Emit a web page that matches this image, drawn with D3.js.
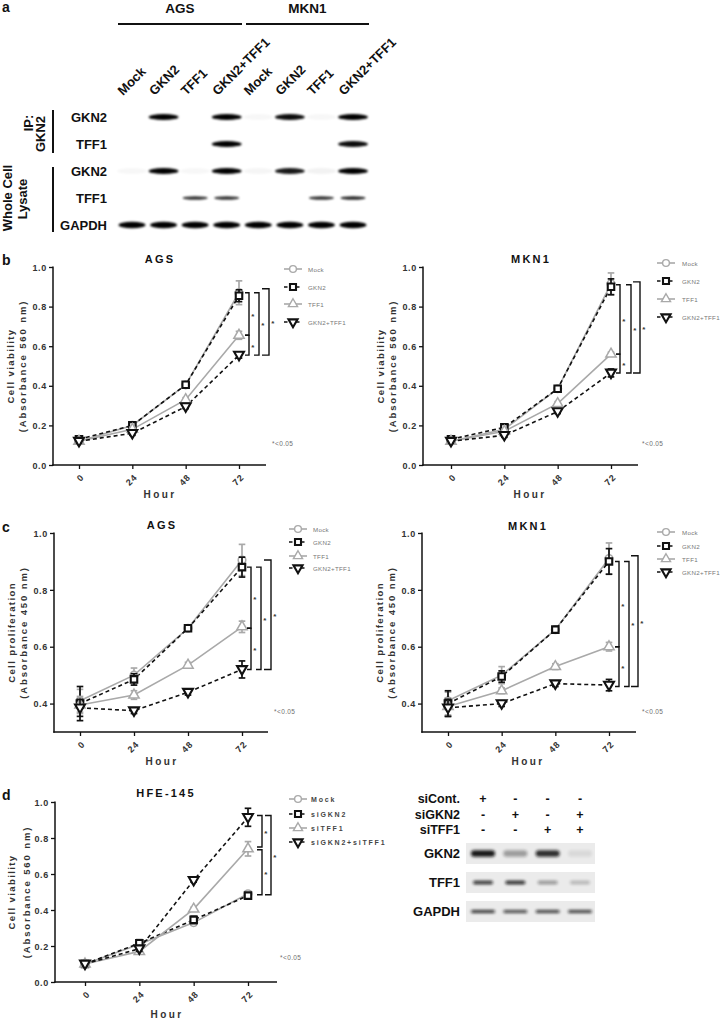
<!DOCTYPE html>
<html><head><meta charset="utf-8">
<script src="https://cdn.jsdelivr.net/npm/d3@7"></script>
<style>body{margin:0;background:#fff} svg{display:block;font-family:"Liberation Sans",Arial,sans-serif}</style>
</head><body><svg id="fig" width="723" height="1020"></svg>
<script>
// ---------------- DATA ----------------
const hours = [0, 24, 48, 72];
const seriesNames = ["Mock", "GKN2", "TFF1", "GKN2+TFF1"];
const siSeriesNames = ["Mock", "siGKN2", "siTFF1", "siGKN2+siTFF1"];

// b: AGS viability (Absorbance 560 nm)
const bAgsMock = [0.12, 0.20, 0.405, 0.87];
const bAgsMockErr = [0.01, 0.01, 0.01, 0.06];
const bAgsGkn2 = [0.13, 0.20, 0.405, 0.855];
const bAgsGkn2Err = [0.01, 0.015, 0.01, 0.03];
const bAgsTff1 = [0.12, 0.18, 0.33, 0.655];
const bAgsTff1Err = [0.01, 0.01, 0.01, 0.02];
const bAgsBoth = [0.12, 0.16, 0.295, 0.555];
const bAgsBothErr = [0.01, 0.01, 0.01, 0.015];
const bAgsBrackets = [[0.87, 0.655, 0], [0.655, 0.555, 0], [0.87, 0.555, 1], [0.89, 0.555, 2]];

// b: MKN1 viability
const bMknMock = [0.12, 0.18, 0.385, 0.915];
const bMknMockErr = [0.01, 0.01, 0.01, 0.055];
const bMknGkn2 = [0.13, 0.19, 0.385, 0.90];
const bMknGkn2Err = [0.01, 0.01, 0.01, 0.04];
const bMknTff1 = [0.12, 0.17, 0.31, 0.56];
const bMknTff1Err = [0.01, 0.01, 0.01, 0.01];
const bMknBoth = [0.12, 0.15, 0.27, 0.465];
const bMknBothErr = [0.01, 0.01, 0.01, 0.02];
const bMknBrackets = [[0.91, 0.56, 0], [0.56, 0.465, 0], [0.91, 0.465, 1], [0.925, 0.465, 2]];

// c: AGS proliferation (Absorbance 450 nm)
const cAgsMock = [0.41, 0.50, 0.665, 0.905];
const cAgsMockErr = [0.04, 0.025, 0.01, 0.055];
const cAgsGkn2 = [0.40, 0.485, 0.665, 0.88];
const cAgsGkn2Err = [0.06, 0.02, 0.01, 0.035];
const cAgsTff1 = [0.395, 0.43, 0.535, 0.67];
const cAgsTff1Err = [0.03, 0.015, 0.01, 0.02];
const cAgsBoth = [0.385, 0.375, 0.44, 0.52];
const cAgsBothErr = [0.03, 0.01, 0.01, 0.03];
const cAgsBrackets = [[0.88, 0.665, 0], [0.665, 0.52, 0], [0.88, 0.52, 1], [0.905, 0.52, 2]];

// c: MKN1 proliferation
const cMknMock = [0.41, 0.50, 0.66, 0.91];
const cMknMockErr = [0.03, 0.03, 0.01, 0.055];
const cMknGkn2 = [0.40, 0.495, 0.66, 0.90];
const cMknGkn2Err = [0.045, 0.02, 0.01, 0.045];
const cMknTff1 = [0.39, 0.445, 0.53, 0.60];
const cMknTff1Err = [0.03, 0.01, 0.01, 0.015];
const cMknBoth = [0.385, 0.40, 0.47, 0.465];
const cMknBothErr = [0.03, 0.01, 0.01, 0.02];
const cMknBrackets = [[0.90, 0.60, 0], [0.60, 0.46, 0], [0.90, 0.46, 1], [0.92, 0.46, 2]];

// d: HFE-145 viability
const dMock = [0.10, 0.21, 0.33, 0.49];
const dMockErr = [0.01, 0.015, 0.015, 0.015];
const dSiGkn2 = [0.10, 0.215, 0.345, 0.48];
const dSiGkn2Err = [0.01, 0.02, 0.02, 0.015];
const dSiTff1 = [0.10, 0.17, 0.405, 0.74];
const dSiTff1Err = [0.01, 0.015, 0.01, 0.04];
const dSiBoth = [0.10, 0.185, 0.565, 0.915];
const dSiBothErr = [0.01, 0.015, 0.01, 0.05];
const dBrackets = [[0.925, 0.75, 0], [0.735, 0.485, 0], [0.925, 0.485, 1]];

const yTicksFull = [0.0, 0.2, 0.4, 0.6, 0.8, 1.0];
const yTicksProlif = [0.4, 0.6, 0.8, 1.0];

// a: co-IP western blot
const laneLabelsA = ["Mock", "GKN2", "TFF1", "GKN2+TFF1", "Mock", "GKN2", "TFF1", "GKN2+TFF1"];
const cellLinesA = ["AGS", "MKN1"];
const rowLabelsA = ["GKN2", "TFF1", "GKN2", "TFF1", "GAPDH"];
const ipGkn2 = [0, 1, 0, 1, 0.03, 0.95, 0.03, 1];
const ipTff1 = [0, 0, 0, 1, 0, 0, 0, 0.95];
const wclGkn2 = [0.03, 1, 0.03, 1, 0.04, 0.9, 0.05, 1];
const wclTff1 = [0, 0, 0.8, 0.8, 0, 0, 0.8, 0.85];
const wclGapdh = [1, 1, 1, 1, 1, 1, 1, 1];

// d: knockdown western blot
const siCont = ["+", "-", "-", "-"];
const siGkn2 = ["-", "+", "-", "+"];
const siTff1 = ["-", "-", "+", "+"];
const rowLabelsD = ["GKN2", "TFF1", "GAPDH"];
const dBlotGkn2 = [0.95, 0.35, 0.85, 0.08];
const dBlotTff1 = [0.85, 0.9, 0.4, 0.25];
const dBlotGapdh = [0.85, 0.75, 0.8, 0.8];

// ---------------- DRAWING ----------------
const FONT = "Liberation Sans, Arial, sans-serif";
const GREY = "#a9a9a9", BLACK = "#111";
const svg = d3.select("#fig");
const defs = svg.append("defs");
defs.append("filter").attr("id", "blur").attr("x", "-30%").attr("y", "-100%").attr("width", "160%").attr("height", "300%")
  .append("feGaussianBlur").attr("stdDeviation", 1.1);
defs.append("filter").attr("id", "blur2").attr("x", "-30%").attr("y", "-100%").attr("width", "160%").attr("height", "300%")
  .append("feGaussianBlur").attr("stdDeviation", 1.4);

const styles = [
  {color: GREY, dash: null, sym: d3.symbolCircle, rot: 0},
  {color: BLACK, dash: "4,3", sym: d3.symbolSquare, rot: 0},
  {color: GREY, dash: null, sym: d3.symbolTriangle, rot: 0},
  {color: BLACK, dash: "4,3", sym: d3.symbolTriangle, rot: 180}
];

function text(g, x, y, s, o = {}) {
  const t = g.append("text").attr("x", x).attr("y", y).text(s)
    .attr("font-family", FONT).attr("font-size", o.size || 10)
    .attr("font-weight", o.weight || "bold").attr("fill", o.fill || "#111")
    .attr("text-anchor", o.anchor || "start");
  if (o.ls) t.attr("letter-spacing", o.ls);
  if (o.rot) t.attr("transform", `rotate(${o.rot},${x},${y})`);
  return t;
}

function drawPanel(c) {
  const g = svg.append("g");
  const y = d3.scaleLinear().domain([c.yMin, 1.0]).range([c.bottom, c.top]);
  const x = d3.scaleLinear().domain([0, 72]).range([c.x0, c.x72]);

  // axes
  const ya = g.append("g").attr("transform", `translate(${c.axisX},0)`)
    .call(d3.axisLeft(y).tickValues(c.yTicks).tickFormat(d3.format(".1f")).tickSize(4).tickSizeOuter(0));
  ya.select(".domain").remove();
  ya.selectAll("line").attr("stroke", BLACK).attr("stroke-width", 1.3);
  ya.selectAll("text").attr("font-family", FONT).attr("font-size", 9).attr("font-weight", "bold")
    .attr("fill", "#333").attr("letter-spacing", 0.7).attr("x", -6).attr("dy", "0.35em");
  const xa = g.append("g").attr("transform", `translate(0,${c.bottom})`)
    .call(d3.axisBottom(x).tickValues(hours).tickFormat(d3.format("d")).tickSize(4).tickSizeOuter(0));
  xa.select(".domain").remove();
  xa.selectAll("line").attr("stroke", BLACK).attr("stroke-width", 1.3);
  xa.selectAll("text").attr("font-family", FONT).attr("font-size", 9).attr("font-weight", "bold")
    .attr("fill", "#333").attr("letter-spacing", 0.8).attr("x", 0).attr("y", 0).attr("dy", 0)
    .attr("text-anchor", "end").attr("transform", "translate(5,13) rotate(-45)");
  g.append("line").attr("x1", c.axisX).attr("x2", c.axisX).attr("y1", y(1.0) - 0.5).attr("y2", c.bottom + 0.7)
    .attr("stroke", BLACK).attr("stroke-width", 1.5);
  g.append("line").attr("x1", c.axisX - 0.7).attr("x2", c.axisRight).attr("y1", c.bottom).attr("y2", c.bottom)
    .attr("stroke", BLACK).attr("stroke-width", 1.5);

  // labels
  text(g, c.titleX, c.titleY, c.title, {size: 11, anchor: "middle", ls: 2.2});
  const ymid = (c.top + c.bottom) / 2;
  text(g, c.axisX + c.yl1, ymid, c.ylab1, {size: 9.5, anchor: "middle", ls: 1.4, fill: "#333", rot: -90});
  text(g, c.axisX + c.yl2, ymid, c.ylab2, {size: 9.5, anchor: "middle", ls: 1.9, fill: "#333", rot: -90});
  text(g, c.hourX, c.hourY, "Hour", {size: 10, anchor: "middle", ls: 2.4, fill: "#333"});
  text(g, c.sigX, c.sigY, "*<0.05", {size: 6.5, weight: "normal", fill: "#6f6f6f", ls: 0.4});

  // lines
  const line = d3.line().x((d, i) => x(hours[i])).y(d => y(d));
  c.series.forEach((s, k) => {
    const st = styles[k];
    g.append("path").attr("d", line(s.vals)).attr("fill", "none").attr("stroke", st.color)
      .attr("stroke-width", 1.6).attr("stroke-dasharray", st.dash);
  });
  // error bars + markers
  c.series.forEach((s, k) => {
    const st = styles[k];
    s.vals.forEach((v, i) => {
      const e = s.errs[i], px = x(hours[i]);
      g.append("line").attr("x1", px).attr("x2", px).attr("y1", y(v - e)).attr("y2", y(v + e))
        .attr("stroke", st.color).attr("stroke-width", 1.7);
      [v - e, v + e].forEach(w => g.append("line").attr("x1", px - 3.3).attr("x2", px + 3.3)
        .attr("y1", y(w)).attr("y2", y(w)).attr("stroke", st.color).attr("stroke-width", 1.7));
    });
    s.vals.forEach((v, i) => {
      g.append("path").attr("d", d3.symbol().type(st.sym).size(k % 2 ? 42 : 46)())
        .attr("transform", `translate(${x(hours[i])},${y(v) + (st.rot ? -0.5 : 0)}) rotate(${st.rot})`)
        .attr("fill", "#fff").attr("stroke", st.color).attr("stroke-width", k % 2 ? 2.1 : 1.5);
    });
  });

  // significance brackets
  c.brackets.forEach(b => {
    const vx = c.x72 + c.brX[b[2]], tl = c.brTick[b[2]];
    const y1 = y(b[0]), y2 = y(b[1]);
    g.append("path").attr("d", `M${vx - tl},${y1}H${vx}V${y2}H${vx - tl}`)
      .attr("fill", "none").attr("stroke", BLACK).attr("stroke-width", 1.4);
    text(g, vx + 2.2, (y1 + y2) / 2 + 4.5, "*", {size: 8, weight: "bold", fill: "#333"});
  });

  // legend
  c.names.forEach((n, k) => {
    const st = styles[k], ly = c.legY[k];
    g.append("line").attr("x1", c.legX - 9).attr("x2", c.legX + 9).attr("y1", ly).attr("y2", ly)
      .attr("stroke", st.color).attr("stroke-width", 1.6).attr("stroke-dasharray", st.dash ? "3.5,2.5" : null);
    g.append("path").attr("d", d3.symbol().type(st.sym).size(36)())
      .attr("transform", `translate(${c.legX},${ly}) rotate(${st.rot})`)
      .attr("fill", "#fff").attr("stroke", st.color).attr("stroke-width", k % 2 ? 2.1 : 1.4);
    text(g, c.legTX, ly + 2.5, n, c.legFont);
  });
}

const mk = (v, e) => ({vals: v, errs: e});
const legSmall = {size: 6.2, weight: "normal", fill: "#777", ls: 0.3};

drawPanel({
  axisX: 53, axisRight: 266, x0: 79, x72: 239, top: 267, bottom: 465, yMin: 0, yTicks: yTicksFull,
  title: "AGS", titleX: 160, titleY: 263, ylab1: "Cell viability", ylab2: "(Absorbance 560 nm)", yl1: -39, yl2: -27,
  hourX: 160, hourY: 498, sigX: 272, sigY: 446,
  series: [mk(bAgsMock, bAgsMockErr), mk(bAgsGkn2, bAgsGkn2Err), mk(bAgsTff1, bAgsTff1Err), mk(bAgsBoth, bAgsBothErr)],
  brackets: bAgsBrackets, brX: [10, 20, 30], brTick: [4, 5, 7],
  names: seriesNames, legX: 293, legTX: 308, legY: [269, 287, 304, 322], legFont: legSmall
});
drawPanel({
  axisX: 423, axisRight: 638, x0: 451, x72: 611, top: 267, bottom: 465, yMin: 0, yTicks: yTicksFull,
  title: "MKN1", titleX: 531, titleY: 263, ylab1: "Cell viability", ylab2: "(Absorbance 560 nm)", yl1: -39, yl2: -27,
  hourX: 530, hourY: 498, sigX: 642, sigY: 446,
  series: [mk(bMknMock, bMknMockErr), mk(bMknGkn2, bMknGkn2Err), mk(bMknTff1, bMknTff1Err), mk(bMknBoth, bMknBothErr)],
  brackets: bMknBrackets, brX: [9, 20, 29], brTick: [4, 5, 7],
  names: seriesNames, legX: 666, legTX: 682, legY: [263, 281, 299, 317], legFont: legSmall
});
drawPanel({
  axisX: 54, axisRight: 268, x0: 80, x72: 242, top: 533, bottom: 732, yMin: 0.3, yTicks: yTicksProlif,
  title: "AGS", titleX: 162, titleY: 529, ylab1: "Cell proliferation", ylab2: "(Absorbance 450 nm)", yl1: -39, yl2: -27,
  hourX: 162, hourY: 765, sigX: 274, sigY: 714,
  series: [mk(cAgsMock, cAgsMockErr), mk(cAgsGkn2, cAgsGkn2Err), mk(cAgsTff1, cAgsTff1Err), mk(cAgsBoth, cAgsBothErr)],
  brackets: cAgsBrackets, brX: [9, 19, 29], brTick: [4, 5, 7],
  names: seriesNames, legX: 298, legTX: 313, legY: [529, 542, 556, 568], legFont: legSmall
});
drawPanel({
  axisX: 422, axisRight: 636, x0: 448, x72: 609, top: 533, bottom: 732, yMin: 0.3, yTicks: yTicksProlif,
  title: "MKN1", titleX: 528, titleY: 530, ylab1: "Cell proliferation", ylab2: "(Absorbance 450 nm)", yl1: -39, yl2: -27,
  hourX: 528, hourY: 765, sigX: 642, sigY: 714,
  series: [mk(cMknMock, cMknMockErr), mk(cMknGkn2, cMknGkn2Err), mk(cMknTff1, cMknTff1Err), mk(cMknBoth, cMknBothErr)],
  brackets: cMknBrackets, brX: [10, 20, 29], brTick: [4, 5, 7],
  names: seriesNames, legX: 666, legTX: 682, legY: [532, 546, 559, 572], legFont: legSmall
});
drawPanel({
  axisX: 55, axisRight: 277, x0: 85, x72: 248, top: 802, bottom: 982, yMin: 0, yTicks: yTicksFull,
  title: "HFE-145", titleX: 166, titleY: 797, ylab1: "Cell viability", ylab2: "(Absorbance 560 nm)", yl1: -40, yl2: -25,
  hourX: 167, hourY: 1018, sigX: 280, sigY: 960,
  series: [mk(dMock, dMockErr), mk(dSiGkn2, dSiGkn2Err), mk(dSiTff1, dSiTff1Err), mk(dSiBoth, dSiBothErr)],
  brackets: dBrackets, brX: [14, 23], brTick: [5, 6],
  names: siSeriesNames, legX: 298, legTX: 311, legY: [799, 814, 828, 842],
  legFont: {size: 7, weight: "bold", fill: "#444", ls: 1.8}
});

// ---------- panel a : blot ----------
const ga = svg.append("g");
const laneA = d3.scalePoint().domain(d3.range(laneLabelsA.length)).range([132, 353]);
const rowA = d3.scalePoint().domain(d3.range(rowLabelsA.length)).range([117, 225]);
[[118, 242], [246, 369]].forEach((r, i) => {
  ga.append("line").attr("x1", r[0]).attr("x2", r[1]).attr("y1", 24).attr("y2", 24).attr("stroke", BLACK).attr("stroke-width", 2);
  text(ga, (r[0] + r[1]) / 2, 13, cellLinesA[i], {size: 13.5, anchor: "middle"});
});
laneLabelsA.forEach((l, i) => text(ga, laneA(i) - 9, 96, l, {size: 13, rot: -45}));
rowLabelsA.forEach((l, i) => text(ga, 107, rowA(i) + 5, l, {size: 13, anchor: "end"}));
ga.append("line").attr("x1", 53).attr("x2", 53).attr("y1", 110).attr("y2", 153).attr("stroke", BLACK).attr("stroke-width", 2);
ga.append("line").attr("x1", 53).attr("x2", 53).attr("y1", 167).attr("y2", 232).attr("stroke", BLACK).attr("stroke-width", 2);
text(ga, 33, 123, "IP:", {size: 13, anchor: "middle", rot: -90});
text(ga, 45, 134, "GKN2", {size: 13, anchor: "middle", rot: -90});
text(ga, 12, 198, "Whole Cell", {size: 13, anchor: "middle", rot: -90});
text(ga, 27, 199, "Lysate", {size: 13, anchor: "middle", rot: -90});
const bandRowsA = [ipGkn2, ipTff1, wclGkn2, wclTff1, wclGapdh];
const bandW = [30, 30, 30, 25, 27], bandH = [6, 6, 6, 3.4, 6.5];
bandRowsA.forEach((row, r) => {
  ga.selectAll(null).data(row).join("ellipse")
    .attr("cx", (d, i) => laneA(i)).attr("cy", rowA(r))
    .attr("rx", bandW[r] / 2).attr("ry", bandH[r] / 2)
    .attr("fill", "#000").attr("opacity", d => d).attr("filter", "url(#blur)");
});

// ---------- panel d : blot ----------
const gd = svg.append("g");
const laneD = d3.scalePoint().domain(d3.range(4)).range([483, 580]);
const signRows = [["siCont.", siCont], ["siGKN2", siGkn2], ["siTFF1", siTff1]];
const signY = [803, 819, 834];
signRows.forEach((r, k) => {
  text(gd, 460, signY[k], r[0], {size: 12.5, anchor: "end"});
  r[1].forEach((s, i) => text(gd, laneD(i), signY[k], s, {size: 12.5, anchor: "middle"}));
});
const boxY = [843, 872, 901];
const dRows = [dBlotGkn2, dBlotTff1, dBlotGapdh];
const dBW = [24, 20, 24], dBH = [6.5, 3.5, 3.2];
rowLabelsD.forEach((l, r) => {
  gd.append("rect").attr("x", 466).attr("y", boxY[r]).attr("width", 129).attr("height", 21).attr("fill", "#ebebeb");
  text(gd, 460, boxY[r] + 15, l, {size: 13, anchor: "end"});
  gd.selectAll(null).data(dRows[r]).join("rect")
    .attr("x", (d, i) => laneD(i) - dBW[r] / 2).attr("y", boxY[r] + 10.5 - dBH[r] / 2)
    .attr("width", dBW[r]).attr("height", dBH[r]).attr("rx", dBH[r] / 2)
    .attr("fill", "#111").attr("opacity", d => d).attr("filter", "url(#blur2)");
});

// panel letters
[["a", 12], ["b", 265], ["c", 532], ["d", 800]].forEach(p => text(svg, 2, p[1], p[0], {size: 14}));
</script></body></html>
